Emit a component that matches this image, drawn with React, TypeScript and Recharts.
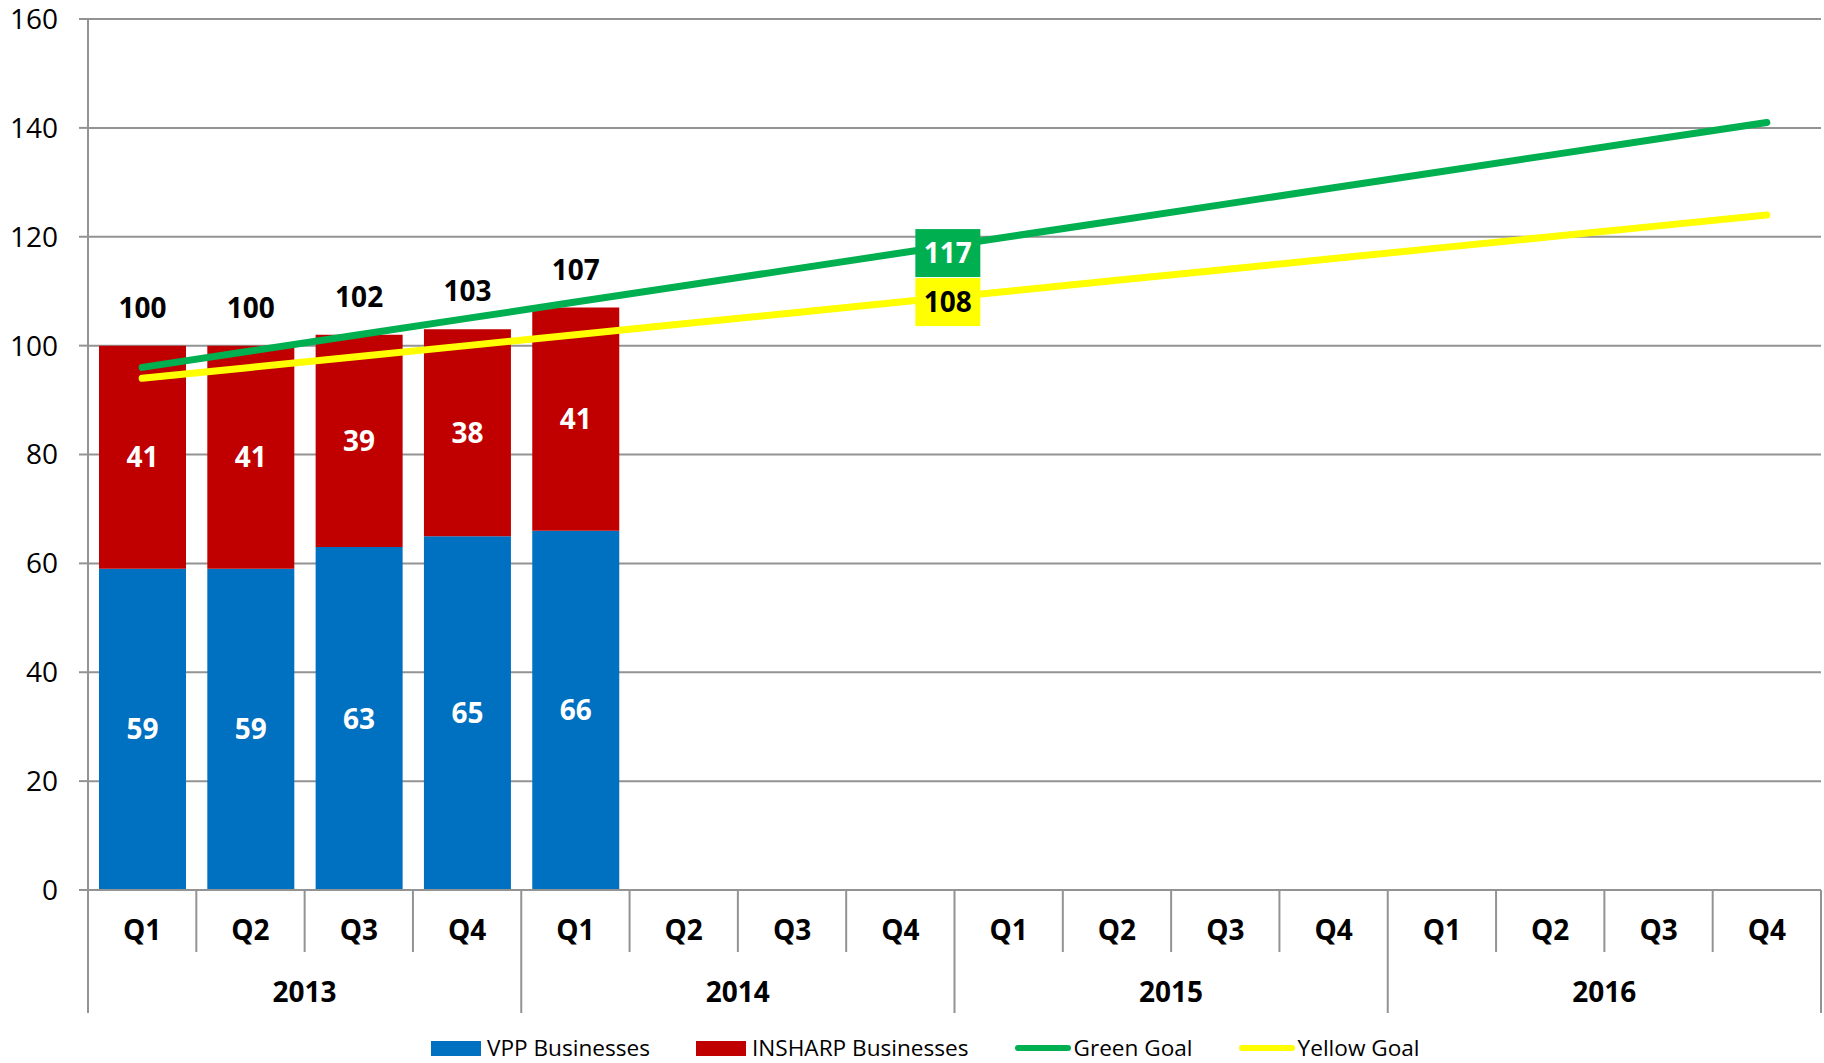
import { ComposedChart, Bar, Line, XAxis, YAxis, CartesianGrid, Legend, LabelList } from 'recharts';

const years = ['2013', '2014', '2015', '2016'];
const quarters = ['Q1', 'Q2', 'Q3', 'Q4'];
const vppBusinesses = [59, 59, 63, 65, 66];
const insharpBusinesses = [41, 41, 39, 38, 41];
const totals = [100, 100, 102, 103, 107];
const greenGoal = [96, 99, 102, 105, 108, 111, 114, 117, 120, 123, 126, 129, 132, 135, 138, 141];
const yellowGoal = [94, 96, 98, 100, 102, 104, 106, 108, 110, 112, 114, 116, 118, 120, 122, 124];
const yTicks = [0, 20, 40, 60, 80, 100, 120, 140, 160];
const goalLabelIndex = 7;

const W = 1824;
const H = 1063;
const MARGIN = { top: 19, right: 3, left: 0, bottom: 0 };
const Y_AXIS_W = 88;
const BAND = (W - MARGIN.left - MARGIN.right - Y_AXIS_W) / (years.length * quarters.length);
const FONT = '"Open Sans", sans-serif';
const GRID = '#939393';

const BLUE = '#0070C0';
const RED = '#C00000';
const GREEN = '#00B050';
const YELLOW = '#FFFF00';

// one row per quarter, bars only where there is data
const rows = years.flatMap((year, yi) =>
  quarters.map((q, qi) => {
    const i = yi * quarters.length + qi;
    return {
      key: `${year} ${q}`,
      vpp: vppBusinesses[i] ?? null,
      insharp: insharpBusinesses[i] ?? null,
      total: totals[i] ?? null,
      green: greenGoal[i],
      yellow: yellowGoal[i],
    };
  })
);

function QuarterTick(props: any) {
  const { x, y, index } = props;
  const left = x - BAND / 2;
  const last = index === rows.length - 1;
  const yearStart = index % quarters.length === 0;
  return (
    <g>
      <line x1={left} y1={y} x2={left} y2={y + (yearStart ? 123 : 62)} stroke={GRID} strokeWidth={2} />
      {last && <line x1={x + BAND / 2} y1={y} x2={x + BAND / 2} y2={y + 123} stroke={GRID} strokeWidth={2} />}
      <text x={x} y={y + 50} textAnchor="middle" fontSize={28} fontWeight="bold" fill="#000">
        {quarters[index % quarters.length]}
      </text>
      {yearStart && (
        <text x={left + BAND * 2} y={y + 112} textAnchor="middle" fontSize={28} fontWeight="bold" fill="#000">
          {years[Math.floor(index / quarters.length)]}
        </text>
      )}
    </g>
  );
}

function SegmentLabel(props: any) {
  const { x, y, width, height, value } = props;
  if (value == null || !height) return null;
  return (
    <text x={x + width / 2} y={y + height / 2 + 10} textAnchor="middle" fontSize={28} fontWeight="bold" fill="#fff">
      {value}
    </text>
  );
}

function TotalLabel(props: any) {
  const { x, y, width, value } = props;
  if (value == null) return null;
  return (
    <text x={x + width / 2} y={y - 28} textAnchor="middle" fontSize={28} fontWeight="bold" fill="#000">
      {value}
    </text>
  );
}

// label box sits to the right of the point, vertically centred on it
function goalLabel(bg: string, color: string) {
  return (props: any) => {
    const { x, y, value, index } = props;
    if (index !== goalLabelIndex) return null;
    return (
      <g>
        <rect x={x + 15} y={y - 24} width={65} height={48} fill={bg} />
        <text x={x + 47.5} y={y + 10} textAnchor="middle" fontSize={28} fontWeight="bold" fill={color}>
          {value}
        </text>
      </g>
    );
  };
}

const legendItems = [
  { label: 'VPP Businesses', color: BLUE, kind: 'box' },
  { label: 'INSHARP Businesses', color: RED, kind: 'box' },
  { label: 'Green Goal', color: GREEN, kind: 'line' },
  { label: 'Yellow Goal', color: YELLOW, kind: 'line' },
];

function LegendContent() {
  return (
    <div style={{ height: 48, display: 'flex', alignItems: 'center', paddingLeft: 431, paddingTop: 18, boxSizing: 'border-box', gap: 46 }}>
      {legendItems.map(({ label, color, kind }) => (
        <div key={label} style={{ display: 'flex', alignItems: 'center', fontSize: 22.6, lineHeight: '30px', color: '#000' }}>
          {kind === 'box' ? (
            <span style={{ display: 'inline-block', width: 50, height: 15, background: color, marginRight: 6 }} />
          ) : (
            <span style={{ display: 'inline-block', width: 56, height: 6, borderRadius: 3, background: color, marginRight: 3 }} />
          )}
          <span>{label}</span>
        </div>
      ))}
    </div>
  );
}

export default function App() {
  return (
    <div style={{ position: 'absolute', left: 0, top: 0, width: W, height: H, background: '#fff', fontFamily: FONT }}>
      <ComposedChart width={W} height={H} data={rows} margin={MARGIN} barSize={87}>
        <CartesianGrid vertical={false} stroke={GRID} strokeWidth={2} />
        <XAxis
          dataKey="key"
          interval={0}
          height={125}
          tickSize={0}
          tickMargin={0}
          tickLine={false}
          axisLine={{ stroke: GRID, strokeWidth: 2 }}
          tick={<QuarterTick />}
        />
        <YAxis
          width={Y_AXIS_W}
          domain={[0, 160]}
          ticks={yTicks}
          interval={0}
          tickSize={9}
          tickMargin={21}
          axisLine={{ stroke: GRID, strokeWidth: 2 }}
          tickLine={{ stroke: GRID, strokeWidth: 2 }}
          tick={{ fill: '#000', fontSize: 28 }}
        />
        <Legend verticalAlign="bottom" height={48} content={<LegendContent />} wrapperStyle={{ left: 0, width: W }} />
        <Bar dataKey="vpp" name="VPP Businesses" stackId="a" fill={BLUE} isAnimationActive={false}>
          <LabelList dataKey="vpp" content={<SegmentLabel />} />
        </Bar>
        <Bar dataKey="insharp" name="INSHARP Businesses" stackId="a" fill={RED} isAnimationActive={false}>
          <LabelList dataKey="insharp" content={<SegmentLabel />} />
          <LabelList dataKey="total" content={<TotalLabel />} />
        </Bar>
        <Line
          dataKey="green"
          name="Green Goal"
          stroke={GREEN}
          strokeWidth={7}
          strokeLinecap="round"
          dot={false}
          activeDot={false}
          type="linear"
          isAnimationActive={false}
        >
          <LabelList dataKey="green" content={goalLabel(GREEN, '#fff')} />
        </Line>
        <Line
          dataKey="yellow"
          name="Yellow Goal"
          stroke={YELLOW}
          strokeWidth={7}
          strokeLinecap="round"
          dot={false}
          activeDot={false}
          type="linear"
          isAnimationActive={false}
        >
          <LabelList dataKey="yellow" content={goalLabel(YELLOW, '#000')} />
        </Line>
      </ComposedChart>
    </div>
  );
}
